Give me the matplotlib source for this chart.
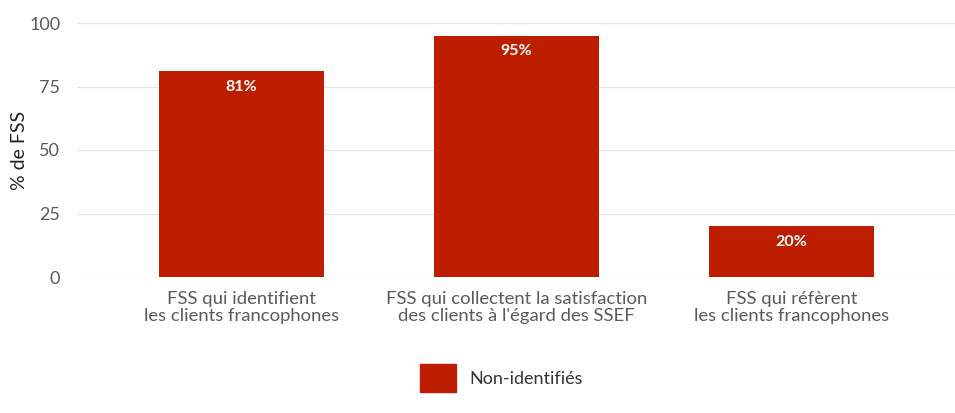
import numpy as np
import matplotlib.pyplot as plt
from matplotlib.patches import Patch

categories = ['FSS qui identifient\nles clients francophones',
              'FSS qui collectent la satisfaction\ndes clients à l\'égard des SSEF',
              'FSS qui réfèrent\nles clients francophones']
values = [81, 95, 20]
series_name = 'Non-identifiés'
yticks = [0, 25, 50, 75, 100]

red = '#BE1E00'
grey = '#5a5a5a'

plt.rcParams['font.family'] = ['Lato', 'DejaVu Sans']

fig = plt.figure(figsize=(9.55, 4.13), dpi=100)
ax = fig.add_axes([77/955, 1 - 277/413, 878/955, 254/413])

x = np.arange(len(categories))
ax.bar(x, values, width=0.6, color=red, zorder=3)
for xi, v in zip(x, values):
    ax.text(xi, v - 3.3, f'{v}%', ha='center', va='top', color='white',
            fontsize=11.5, fontweight='bold', zorder=4)

ax.set_xlim(-0.598, 2.595)
ax.set_ylim(0, 100)
ax.set_yticks(yticks)
ax.set_yticklabels([str(t) for t in yticks], color=grey, fontsize=13)
ax.set_xticks(x)
ax.set_xticklabels(categories, color=grey, fontsize=13.3, linespacing=1.05)
ax.tick_params(axis='both', length=0)
ax.tick_params(axis='y', pad=12)
ax.tick_params(axis='x', pad=10)
ax.grid(axis='y', color='#e6e6e6', linewidth=1, zorder=0)
for s in ax.spines.values():
    s.set_visible(False)
ax.set_ylabel('% de FSS', fontsize=14, color='#222222', labelpad=1)

fig.legend(handles=[Patch(color=red, label=series_name)], loc='center',
           bbox_to_anchor=(0.525, 1 - 378/413), frameon=False,
           prop={'size': 13}, labelcolor='#333333',
           handlelength=2.0, handleheight=2.0, handletextpad=0.7)

fig.savefig('out.png', dpi=100)
